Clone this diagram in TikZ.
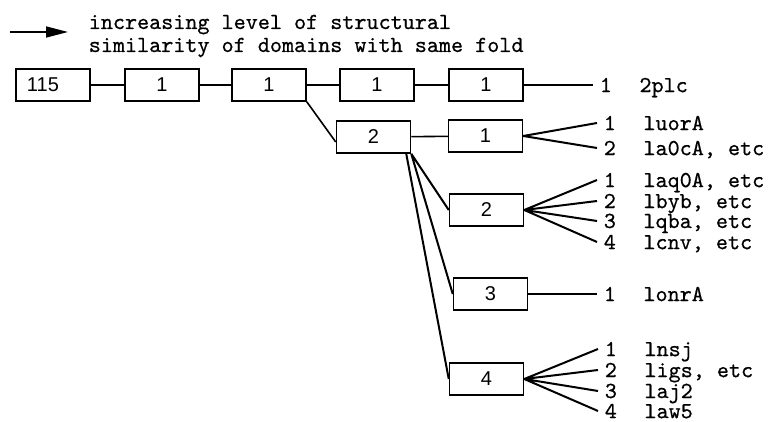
\documentclass[tikz,border=0pt]{standalone}
\usepackage{fontspec}
\setmainfont{Liberation Sans}
\newfontfamily\lblfont{lmmono10-regular.otf}[FakeBold=0.6]
\usetikzlibrary{arrows.meta,positioning}
\tikzset{box/.style={draw,line width=1.5pt,minimum width=74pt,minimum height=32pt,inner sep=0pt,font=\fontsize{20}{24}\selectfont},
num/.style={inner xsep=6pt,inner ysep=0pt,anchor=west,font=\lblfont\fontsize{23}{23}\selectfont},
nm/.style={inner sep=0pt,font=\lblfont\fontsize{23}{23}\selectfont},
fan/.style={line width=2pt}}
\begin{document}
\begin{tikzpicture}[x=1pt,y=-1pt,line width=1.6pt]
\useasboundingbox (0,0) rectangle (769,422);
\coordinate (a0) at (10,32); \coordinate (a1) at (68,32);
\draw[-{Triangle[length=22pt,width=11pt]}] (a0)--(a1);
\node[nm,anchor=north west,align=left] (ttl) at (88,14) {increasing level of structural\\similarity of domains with same fold};
\node[box,text width=52pt,align=left] (b0) at (53,85) {115};
\node[box] (b1) at (162,85) {1};
\node[box] (b2) at (269,85) {1};
\node[box] (b3) at (377,85) {1};
\node[box] (b4) at (486,85) {1};
\node[box] (c) at (373.5,137) {2};
\node[box] (d1) at (485.5,136) {1};
\node[box] (d2) at (486.5,210) {2};
\node[box] (d3) at (490.5,294) {3};
\node[box] (d4) at (486.5,379) {4};
\draw (b0)--(b1) (b1)--(b2) (b2)--(b3) (b3)--(b4);
\draw (b2.south east)--([yshift=-5pt]c.west);
\draw (c)--(d1);
\draw[fan] (c.south east)--(d2.west) (c.south east)--(d3.west) ([xshift=-5pt]c.south east)--(d4.west);
\node[num] (t1) at (593,85) {1};
\node[nm,base right=20pt of t1] (p1) {2plc};
\draw (b4)--(t1);
\node[num] (e1) at (597,123) {1};
\node[num] (e2) at (597,148) {2};
\node[nm,base right=20pt of e1] {luorA};
\node[nm,base right=20pt of e2] {la0cA, etc};
\draw[fan] (d1.east)--(e1.west) (d1.east)--(e2.west);
\node[num] (f1) at (597,180) {1};
\node[num] (f2) at (597,201) {2};
\node[num] (f3) at (597,221) {3};
\node[num] (f4) at (597,242) {4};
\node[nm,base right=20pt of f1] {laq0A, etc};
\node[nm,base right=20pt of f2] {lbyb, etc};
\node[nm,base right=20pt of f3] {lqba, etc};
\node[nm,base right=20pt of f4] {lcnv, etc};
\draw[fan] (d2.east)--(f1.west) (d2.east)--(f2.west) (d2.east)--(f3.west) (d2.east)--(f4.west);
\node[num] (g1) at (597,294) {1};
\node[nm,base right=20pt of g1] {lonrA};
\draw (d3)--(g1);
\node[num] (h1) at (598,349) {1};
\node[num] (h2) at (598,370) {2};
\node[num] (h3) at (598,391) {3};
\node[num] (h4) at (598,411) {4};
\node[nm,base right=20pt of h1] {lnsj};
\node[nm,base right=20pt of h2] {ligs, etc};
\node[nm,base right=20pt of h3] {laj2};
\node[nm,base right=20pt of h4] {law5};
\draw[fan] (d4.east)--(h1.west) (d4.east)--(h2.west) (d4.east)--(h3.west) (d4.east)--(h4.west);
\end{tikzpicture}
\end{document}
